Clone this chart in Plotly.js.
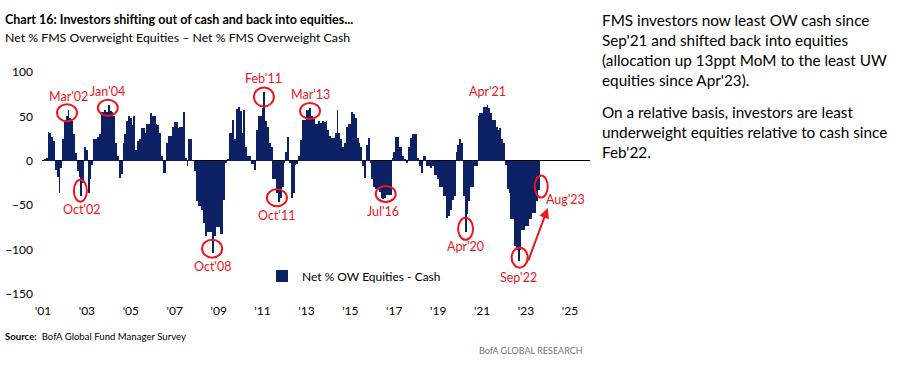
<!DOCTYPE html>
<html>
<head>
<meta charset="utf-8">
<script src="https://cdn.plot.ly/plotly-3.0.1.min.js"></script>
<style>
  html, body { margin: 0; padding: 0; background: #ffffff; }
  #chart { width: 902px; height: 371px; }
</style>
</head>
<body>
<div id="chart"></div>
<script>
// ---------------- DATA ----------------
const seriesName = "Net % OW Equities - Cash";
const startYear = 2001;
const v2001 = [0, 2, 3, 33, 31, 27, 22, -10, -18, -36, -8, 24];
const v2002 = [45, 50, 57, 48, 45, 30, 9, -12, -18, -40, -25, 15];
const v2003 = [12, -36, -20, -5, 25, 25, 27, 30, 55, 55, 57, 55];
const v2004 = [63, 56, 55, 50, 20, 5, -19, -15, 20, 30, 45, 50];
const v2005 = [48, 40, 50, 12, 22, 24, 37, 37, 31, 42, 42, 54];
const v2006 = [50, 50, 42, 40, 31, 5, -14, -14, 20, 28, 28, 38];
const v2007 = [44, 44, 37, 38, 38, 55, 3, -6, 25, 25, 1, -12];
const v2008 = [-45, -51, -51, -55, -70, -85, -80, -80, -80, -104, -85, -75];
const v2009 = [-75, -82, -82, -44, -2, 2, 31, 31, 46, 24, 58, 61];
const v2010 = [56, 31, 57, 16, 5, 5, -4, -4, -10, 35, 50, 50];
const v2011 = [60, 77, 45, 38, 20, 16, -21, -21, -36, -46, -42, -29];
const v2012 = [-2, 10, 27, -2, -42, -36, -5, -4, 5, 23, 46, 46];
const v2013 = [57, 57, 59, 50, 48, 42, 42, 45, 43, 45, 44, 45];
const v2014 = [35, 28, 26, 26, 31, 57, 31, 24, 16, 20, 38, 42];
const v2015 = [42, 55, 53, 48, 26, 20, 16, -6, -19, 18, 26, -2];
const v2016 = [-21, -30, -32, -32, -35, -42, -43, -42, -38, -38, -38, 3];
const v2017 = [10, 27, 27, 16, 16, 5, 2, -3, 16, 26, 30, 30];
const v2018 = [30, 3, -6, -14, 5, 5, -6, -6, -8, -6, -16, -16];
const v2019 = [-20, -29, -29, -40, -40, -64, -62, -55, -44, -40, 10, 18];
const v2020 = [24, 20, -40, -80, -60, -45, -29, -29, -6, -6, 50, 54];
const v2021 = [54, 61, 61, 63, 60, 54, 46, 46, 38, 35, 37, 24];
const v2022 = [20, -5, -32, -36, -66, -66, -96, -100, -113, -100, -78, -78];
const v2023 = [-73, -73, -66, -66, -59, -59, -45, -33];

const xTickVals = ["2001-01-01","2003-01-01","2005-01-01","2007-01-01","2009-01-01","2011-01-01","2013-01-01","2015-01-01","2017-01-01","2019-01-01","2021-01-01","2023-01-01","2025-01-01"];
const xTickText = ["'01","'03","'05","'07","'09","'11","'13","'15","'17","'19","'21","'23","'25"];
const yTickVals = [-150, -100, -50, 0, 50, 100];

const eventLabels = ["Mar'02","Oct'02","Jan'04","Oct'08","Feb'11","Oct'11","Mar'13","Jul'16","Apr'20","Apr'21","Sep'22","Aug'23"];
const eventDates  = ["2002-03-01","2002-10-01","2004-01-01","2008-10-01","2011-02-01","2011-10-01","2013-03-01","2016-07-01","2020-04-01","2021-04-01","2022-09-01","2023-08-01"];

const titleText = "<b>Chart 16: Investors shifting out of cash and back into equities...</b>";
const subtitleText = "Net % FMS Overweight Equities \u2013 Net % FMS Overweight Cash";
const para1 = "FMS investors now least OW cash since<br>Sep'21 and shifted back into equities<br>(allocation up 13ppt MoM to the least UW<br>equities since Apr'23).";
const para2 = "On a relative basis, investors are least<br>underweight equities relative to cash since<br>Feb'22.";
const sourceText = "<b>Source:</b>  BofA Global Fund Manager Survey";
const brandText = "BofA GLOBAL RESEARCH";

// ---------------- BUILD ----------------
const yearly = [v2001,v2002,v2003,v2004,v2005,v2006,v2007,v2008,v2009,v2010,v2011,v2012,v2013,v2014,v2015,v2016,v2017,v2018,v2019,v2020,v2021,v2022,v2023];
const dates = [], values = [];
yearly.forEach((arr, i) => {
  arr.forEach((v, m) => {
    const mm = String(m + 1).padStart(2, "0");
    dates.push((startYear + i) + "-" + mm + "-01");
    values.push(v);
  });
});
const valueAt = d => values[dates.indexOf(d)];

const FONT = "Lato, 'Open Sans', sans-serif";
const NAVY = "#0b2163";
const RED = "#f0141c";

// styling offsets for annotations (pixels, screen: +x right, +y down)
const eventStyle = {
  "Mar'02": {ldx: 0, ldy: -14, c: [-1.5, 2.5, 10, 8.5]},
  "Oct'02": {ldx: 0, ldy: 13, c: [-1, -5.5, 6.5, 11]},
  "Jan'04": {ldx: -1, ldy: -13, c: [-1, 3, 10, 8]},
  "Oct'08": {ldx: -1, ldy: 13, c: [-1, -4.5, 10, 9]},
  "Feb'11": {ldx: -1, ldy: -14, c: [-0.5, 4.5, 10, 9.5]},
  "Oct'11": {ldx: -2, ldy: 14, c: [-2, -4, 10, 8.5]},
  "Mar'13": {ldx: 0, ldy: -14, c: [0, 2.5, 10, 8]},
  "Jul'16": {ldx: 0, ldy: 13, c: [2.5, -5, 10, 8]},
  "Apr'20": {ldx: 0, ldy: 15, c: [0, -3, 7.5, 11]},
  "Apr'21": {ldx: 0, ldy: -13, c: null},
  "Sep'22": {ldx: 0, ldy: 16, c: [1, -3.5, 8, 10]},
  "Aug'23": {ldx: 27, ldy: 9, c: [2.5, -3.5, 6.5, 11]}
};

const trace = {
  type: "bar",
  x: dates,
  y: values,
  name: seriesName,
  marker: {color: NAVY, line: {width: 0}},
  width: 31 * 86400000,
  hoverinfo: "x+y"
};

const annotations = [];
const shapes = [];
eventLabels.forEach((lab, i) => {
  const d = eventDates[i];
  const v = valueAt(d);
  const s = eventStyle[lab];
  annotations.push({
    xref: "x", yref: "y", x: d, y: v, text: lab, showarrow: false,
    xshift: s.ldx, yshift: -s.ldy, xanchor: "center", yanchor: "middle",
    font: {family: FONT, size: 12.5, color: RED}
  });
  if (s.c) {
    const [cdx, cdy, rx, ry] = s.c;
    shapes.push({
      type: "circle", xref: "x", yref: "y",
      xsizemode: "pixel", ysizemode: "pixel",
      xanchor: d, yanchor: v,
      x0: cdx - rx, x1: cdx + rx, y0: -cdy - ry, y1: -cdy + ry,
      line: {color: RED, width: 2}
    });
  }
});
// arrow from Sep'22 trough up towards Aug'23
annotations.push({
  xref: "x", yref: "y", x: eventDates[11], y: valueAt(eventDates[11]),
  xshift: 9, yshift: -18, ax: -20, ay: 54, text: "", showarrow: true,
  arrowhead: 2, arrowsize: 1, arrowwidth: 2, arrowcolor: RED
});

// page texts
const px = X => (X - 42) / 548;
const py = Y => (294 - Y) / 222;
annotations.push({xref: "paper", yref: "paper", x: px(3), y: py(19.5), xanchor: "left", yanchor: "middle", showarrow: false, text: titleText, font: {family: FONT, size: 12.5, color: "#000"}});
annotations.push({xref: "paper", yref: "paper", x: px(3), y: py(37.5), xanchor: "left", yanchor: "middle", showarrow: false, text: subtitleText, font: {family: FONT, size: 12.3, color: "#000"}});
annotations.push({xref: "paper", yref: "paper", x: px(600), y: py(50), xanchor: "left", yanchor: "middle", align: "left", showarrow: false, text: para1, font: {family: FONT, size: 15.3, color: "#000"}});
annotations.push({xref: "paper", yref: "paper", x: px(600), y: py(132), xanchor: "left", yanchor: "middle", align: "left", showarrow: false, text: para2, font: {family: FONT, size: 15.3, color: "#000"}});
annotations.push({xref: "paper", yref: "paper", x: px(3), y: py(336), xanchor: "left", yanchor: "middle", showarrow: false, text: sourceText, font: {family: FONT, size: 9.6, color: "#000"}});
annotations.push({xref: "paper", yref: "paper", x: px(585), y: py(350), xanchor: "right", yanchor: "middle", showarrow: false, text: brandText, font: {family: FONT, size: 9, color: "#777"}});

const layout = {
  width: 902, height: 371,
  margin: {l: 42, r: 312, t: 72, b: 77},
  paper_bgcolor: "#fff", plot_bgcolor: "#fff",
  font: {family: FONT, size: 12, color: "#000"},
  bargap: 0,
  showlegend: true,
  legend: {x: px(262), y: py(276), xanchor: "left", yanchor: "middle", bgcolor: "rgba(0,0,0,0)", font: {family: FONT, size: 12, color: "#000"}},
  xaxis: {
    type: "date", range: ["2000-12-15", "2025-12-01"],
    tickmode: "array", tickvals: xTickVals, ticktext: xTickText,
    showgrid: false, zeroline: false, showline: false, ticks: "",
    ticklabelstandoff: 8,
    tickfont: {family: FONT, size: 12, color: "#000"}
  },
  yaxis: {
    range: [-150, 100], tickmode: "array", tickvals: yTickVals,
    showgrid: false, zeroline: true, zerolinecolor: "#000", zerolinewidth: 1,
    showline: false, ticks: "", ticklabelstandoff: 8,
    tickfont: {family: FONT, size: 12, color: "#000"}
  },
  annotations: annotations,
  shapes: shapes
};

Plotly.newPlot("chart", [trace], layout, {displayModeBar: false, staticPlot: true});
</script>
</body>
</html>
